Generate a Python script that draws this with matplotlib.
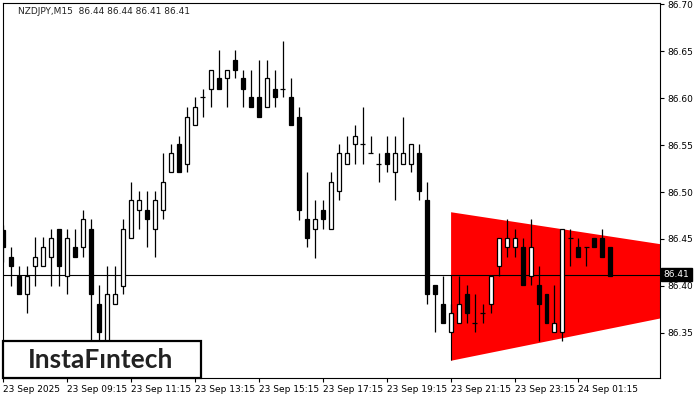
import matplotlib
matplotlib.use("Agg")
import matplotlib.pyplot as plt
import matplotlib.transforms as mtransforms
from matplotlib.patches import Rectangle

# 15 minute NZDJPY bars
opens = [86.460, 86.431, 86.411, 86.391, 86.421, 86.421, 86.431, 86.461, 86.411, 86.442,
         86.442, 86.461, 86.381, 86.340, 86.381, 86.400, 86.451, 86.481, 86.481, 86.461,
         86.481, 86.521, 86.551, 86.530, 86.571, 86.601, 86.610, 86.621, 86.621, 86.640,
         86.621, 86.601, 86.601, 86.590, 86.610, 86.610, 86.601, 86.580, 86.471, 86.461,
         86.481, 86.461, 86.501, 86.530, 86.551, 86.551, 86.541, 86.530, 86.541, 86.521,
         86.530, 86.530, 86.541, 86.491, 86.401, 86.381, 86.351, 86.361, 86.391, 86.361,
         86.371, 86.381, 86.421, 86.442, 86.442, 86.442, 86.411, 86.401, 86.391, 86.351,
         86.351, 86.451, 86.442, 86.442, 86.451, 86.451, 86.442]
highs = [86.465, 86.442, 86.421, 86.421, 86.452, 86.452, 86.461, 86.461, 86.461, 86.461,
         86.481, 86.471, 86.401, 86.421, 86.421, 86.471, 86.511, 86.501, 86.501, 86.501,
         86.541, 86.551, 86.560, 86.590, 86.601, 86.610, 86.630, 86.651, 86.630, 86.651,
         86.630, 86.630, 86.640, 86.640, 86.630, 86.661, 86.621, 86.590, 86.521, 86.491,
         86.491, 86.521, 86.551, 86.560, 86.571, 86.590, 86.560, 86.541, 86.560, 86.560,
         86.580, 86.551, 86.551, 86.511, 86.401, 86.411, 86.381, 86.411, 86.401, 86.391,
         86.381, 86.411, 86.451, 86.471, 86.461, 86.451, 86.471, 86.421, 86.391, 86.401,
         86.461, 86.461, 86.451, 86.442, 86.451, 86.461, 86.442]
lows = [86.425, 86.400, 86.391, 86.371, 86.400, 86.421, 86.400, 86.400, 86.391, 86.431,
        86.431, 86.340, 86.335, 86.330, 86.381, 86.391, 86.451, 86.461, 86.442, 86.431,
        86.471, 86.521, 86.521, 86.521, 86.571, 86.580, 86.590, 86.610, 86.590, 86.621,
        86.590, 86.590, 86.580, 86.590, 86.590, 86.601, 86.571, 86.470, 86.441, 86.430,
        86.461, 86.461, 86.491, 86.530, 86.530, 86.530, 86.541, 86.511, 86.521, 86.491,
        86.530, 86.521, 86.491, 86.381, 86.351, 86.361, 86.351, 86.361, 86.361, 86.351,
        86.361, 86.371, 86.411, 86.431, 86.431, 86.401, 86.401, 86.341, 86.361, 86.351,
        86.341, 86.421, 86.431, 86.421, 86.442, 86.431, 86.411]
closes = [86.441, 86.421, 86.391, 86.411, 86.431, 86.442, 86.451, 86.421, 86.451, 86.431,
          86.471, 86.391, 86.351, 86.391, 86.391, 86.461, 86.491, 86.491, 86.471, 86.491,
          86.511, 86.541, 86.521, 86.580, 86.590, 86.601, 86.630, 86.610, 86.630, 86.630,
          86.610, 86.590, 86.580, 86.621, 86.601, 86.610, 86.571, 86.481, 86.451, 86.471,
          86.471, 86.511, 86.541, 86.541, 86.560, 86.551, 86.541, 86.530, 86.530, 86.541,
          86.541, 86.551, 86.501, 86.391, 86.391, 86.361, 86.371, 86.381, 86.371, 86.361,
          86.371, 86.411, 86.451, 86.451, 86.451, 86.401, 86.442, 86.381, 86.361, 86.361,
          86.461, 86.451, 86.431, 86.442, 86.442, 86.431, 86.411]

time_ticks = [0, 8, 16, 24, 32, 40, 48, 56, 64, 72]
time_labels = ["23 Sep 2025", "23 Sep 09:15", "23 Sep 11:15", "23 Sep 13:15", "23 Sep 15:15",
               "23 Sep 17:15", "23 Sep 19:15", "23 Sep 21:15", "23 Sep 23:15", "24 Sep 01:15"]
price_ticks = [86.35, 86.40, 86.45, 86.50, 86.55, 86.60, 86.65, 86.70]

# bearish symmetrical triangle
pattern_x = [56, 82.2]
pattern_top = [86.479, 86.445]
pattern_bottom = [86.321, 86.366]

last_price = 86.412
title = "NZDJPY,M15  86.44 86.44 86.41 86.41"

W, H = 700, 400
BODY = 0.5
LW = 0.9


def draw_candles(ax):
    for i in range(len(opens)):
        o, h, l, c = opens[i], highs[i], lows[i], closes[i]
        ax.vlines(i, l, h, color="black", lw=LW, zorder=3)
        if o == c:
            ax.hlines(o, i - BODY / 2 - 0.05, i + BODY / 2 + 0.05, color="black", lw=LW, zorder=4)
            continue
        fc = "white" if c > o else "black"
        ax.add_patch(Rectangle((i - BODY / 2, min(o, c)), BODY, abs(c - o),
                               facecolor=fc, edgecolor="black", lw=LW, zorder=4))


fig = plt.figure(figsize=(W / 100, H / 100), dpi=100)
left, right, top, bottom = 2.5, 660, 3, 378
ax = fig.add_axes([left / W, 1 - bottom / H, (right - left) / W, (bottom - top) / H])

ax.fill_between(pattern_x, pattern_bottom, pattern_top, color="#ff0000", lw=0, zorder=1)
ax.vlines(pattern_x[0], pattern_bottom[0], last_price, color="black", lw=0.8, zorder=2)
ax.axhline(last_price, color="black", lw=0.8, zorder=2)
draw_candles(ax)

ax.set_xlim(-0.06, 82.2)
ax.set_ylim(86.3021, 86.7011)

for s in ax.spines.values():
    s.set_color("black")
    s.set_linewidth(0.8)

ax.yaxis.tick_right()
ax.set_yticks(price_ticks)
ax.set_yticklabels([f"{p:.2f}" for p in price_ticks])
ax.set_xticks(time_ticks)
ax.set_xticklabels(time_labels)
ax.tick_params(axis="both", direction="out", length=3, width=0.8, colors="black",
               labelsize=6.5, pad=2)
for lab in ax.get_xticklabels():
    lab.set_ha("left")
for lab in ax.get_xticklabels() + ax.get_yticklabels():
    lab.set_family("DejaVu Sans")

ax.text(15.5 / (right - left), 1 - 8 / (bottom - top), title, transform=ax.transAxes,
        fontsize=6.5, color="#222222", ha="left", va="center")

# current price marker on the price scale
trans = mtransforms.blended_transform_factory(ax.transAxes, ax.transData)
ax.text(1.0055, last_price, f"{last_price:.2f}", transform=trans, fontsize=6.5, color="white",
        ha="left", va="center", clip_on=False, zorder=6,
        bbox=dict(boxstyle="square,pad=0.25", fc="black", ec="black"))

# logo box in the lower left corner
fig.add_artist(Rectangle((3 / W, 1 - 378 / H), 198 / W, 37 / H, transform=fig.transFigure,
                         facecolor="white", edgecolor="black", lw=1.6, zorder=5))
fig.text(101 / W, 1 - 359.5 / H, "InstaF\u0131ntech", fontsize=19, fontweight="bold",
         color="#222222", family="Lato", ha="center", va="center", zorder=6)

fig.savefig("out.png", dpi=100)
